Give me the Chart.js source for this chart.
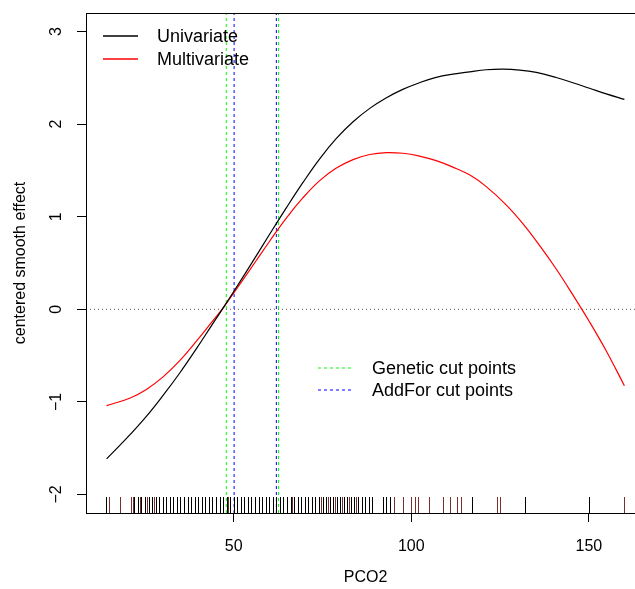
<!DOCTYPE html>
<html>
<head>
<meta charset="utf-8">
<title>PCO2 smooth effect</title>
<script src="https://cdn.jsdelivr.net/npm/chart.js@4.4.1/dist/chart.umd.min.js"></script>
<style>
  html, body { margin: 0; padding: 0; overflow: hidden; background: #fff; }
  #wrap { width: 660px; height: 589px; }
</style>
</head>
<body>
<div id="wrap"><canvas id="smoothChart" width="660" height="589"></canvas></div>
<script>
// smooth effect curves for PCO2
const uniX = [14.2, 19.8, 25.4, 30.1, 34.8, 39.5, 44.2, 47.0, 53.6, 60.1, 64.8, 69.5, 74.2, 78.9, 83.6, 88.3, 93.0, 97.6, 102.3, 107.0, 111.7, 116.4, 121.1, 125.8, 130.5, 135.2, 140.8, 145.5, 150.2, 154.9, 160.0];
const uniY = [-1.616, -1.395, -1.156, -0.93, -0.688, -0.425, -0.149, 0.013, 0.41, 0.81, 1.095, 1.37, 1.625, 1.845, 2.025, 2.17, 2.285, 2.375, 2.447, 2.505, 2.54, 2.565, 2.587, 2.594, 2.584, 2.558, 2.503, 2.447, 2.387, 2.327, 2.267];
const multiX = [14.2, 20.7, 25.4, 30.1, 34.8, 39.5, 44.2, 47.0, 50.8, 56.4, 60.1, 64.8, 69.5, 74.2, 78.9, 83.6, 88.3, 93.0, 97.6, 102.3, 107.0, 111.7, 116.4, 121.1, 126.7, 131.4, 136.1, 140.8, 145.5, 150.2, 154.9, 160.0];
const multiY = [-1.04, -0.96, -0.865, -0.73, -0.555, -0.345, -0.12, 0.015, 0.22, 0.53, 0.735, 0.985, 1.205, 1.39, 1.525, 1.617, 1.672, 1.692, 1.685, 1.655, 1.605, 1.536, 1.452, 1.325, 1.128, 0.925, 0.69, 0.435, 0.155, -0.137, -0.45, -0.825];

// cut points
const geneticCuts = [47.9, 62.6];
const addForCuts = [50.1, 62.0];

// observed PCO2 values (rug)
const rugBlack = [14, 22, 23, 24, 25, 26, 27, 28, 29, 30, 31, 32, 33, 34, 35, 36, 37, 38, 39, 40, 41, 42, 43, 44, 45, 46, 47, 48, 49, 50, 51, 52, 53, 54, 55, 56, 57, 58, 59, 60, 61, 62, 63, 64, 65, 66, 67, 68, 69, 70, 71, 72, 73, 74, 75, 76, 77, 78, 79, 80, 81, 82, 83, 84, 85, 86, 87, 88, 89, 92, 93, 94, 117, 132, 150];
const rugRed = [15, 18, 21, 21.5, 23.5, 25.5, 27.5, 48.5, 66.5, 74.5, 76.5, 78.5, 80.5, 82.5, 84.5, 95, 97.7, 100, 101, 102, 105, 109, 111, 113, 114, 124, 125, 160];

const xTicks = [50, 100, 150];
const yTicks = [-2, -1, 0, 1, 2, 3];
const xRange = [8.4, 165.8];
const yRange = [-2.2, 3.2];

const fontFamily = '"Liberation Sans", Arial, Helvetica, sans-serif';

function toPoints(xs, ys) {
    return xs.map((x, i) => ({ x: x, y: ys[i] }));
}

function cutLine(x, color, label) {
    return {
        label: label,
        data: [{ x: x, y: yRange[0] }, { x: x, y: yRange[1] }],
        borderColor: color,
        borderWidth: 1,
        borderDash: [3, 3],
        showLine: true,
        pointRadius: 0
    };
}

// box, rug, rotated y labels and the two keys
const decorations = {
    id: 'decorations',
    afterDatasetsDraw(chart) {
        const ctx = chart.ctx;
        const area = chart.chartArea;
        const xs = chart.scales.x;
        const ys = chart.scales.y;

        ctx.save();
        ctx.lineWidth = 1;
        const rugTop = area.bottom - 16;
        [[rugBlack, '#000'], [rugRed, '#7a2e2e']].forEach(([vals, col]) => {
            ctx.strokeStyle = col;
            vals.forEach(v => {
                const px = Math.round(xs.getPixelForValue(v)) + 0.5;
                ctx.beginPath();
                ctx.moveTo(px, area.bottom);
                ctx.lineTo(px, rugTop);
                ctx.stroke();
            });
        });

        ctx.strokeStyle = '#000';
        ctx.strokeRect(area.left + 0.5, area.top + 0.5, area.right - area.left, area.bottom - area.top);

        // y tick labels, read bottom to top
        ctx.fillStyle = '#000';
        ctx.font = '16px ' + fontFamily;
        ctx.textAlign = 'center';
        ctx.textBaseline = 'alphabetic';
        yTicks.forEach(v => {
            const py = ys.getPixelForValue(v);
            ctx.save();
            ctx.translate(area.left - 25, py);
            ctx.rotate(-Math.PI / 2);
            ctx.fillText(v < 0 ? '\u2212' + Math.abs(v) : String(v), 0, 0);
            ctx.restore();
        });

        // keys
        ctx.font = '18px ' + fontFamily;
        ctx.textAlign = 'left';
        ctx.textBaseline = 'middle';
        const drawKey = (x0, y, color, dash, text) => {
            ctx.strokeStyle = color;
            ctx.lineWidth = dash.length ? 1 : 1.5;
            ctx.setLineDash(dash);
            ctx.beginPath();
            ctx.moveTo(x0, y);
            ctx.lineTo(x0 + 35, y);
            ctx.stroke();
            ctx.setLineDash([]);
            ctx.fillStyle = '#000';
            ctx.fillText(text, x0 + 54, y + 1);
        };
        const ds = chart.data.datasets;
        drawKey(area.left + 17, area.top + 23, ds[0].borderColor, [], ds[0].label);
        drawKey(area.left + 17, area.top + 46, ds[1].borderColor, [], ds[1].label);
        drawKey(area.left + 232, area.top + 355, '#00ff00', [3, 3], 'Genetic cut points');
        drawKey(area.left + 232, area.top + 377, '#0000ff', [3, 3], 'AddFor cut points');
        ctx.restore();
    }
};

const datasets = [
    {
        label: 'Univariate',
        data: toPoints(uniX, uniY),
        borderColor: '#000000',
        borderWidth: 1.2,
        showLine: true,
        pointRadius: 0,
        tension: 0.4
    },
    {
        label: 'Multivariate',
        data: toPoints(multiX, multiY),
        borderColor: '#ff0000',
        borderWidth: 1.2,
        showLine: true,
        pointRadius: 0,
        tension: 0.4
    },
    {
        label: 'zero',
        data: [{ x: xRange[0], y: 0 }, { x: xRange[1], y: 0 }],
        borderColor: '#555',
        borderWidth: 1,
        borderDash: [1, 3],
        showLine: true,
        pointRadius: 0
    }
];
geneticCuts.forEach(x => datasets.push(cutLine(x, '#00ff00', 'Genetic cut points')));
addForCuts.forEach(x => datasets.push(cutLine(x, '#0000ff', 'AddFor cut points')));

new Chart(document.getElementById('smoothChart'), {
    type: 'scatter',
    data: { datasets: datasets },
    options: {
        responsive: false,
        animation: false,
        devicePixelRatio: 1,
        layout: { padding: { top: 13, right: 15, left: 0, bottom: 0 } },
        plugins: {
            legend: { display: false },
            tooltip: { enabled: false }
        },
        scales: {
            x: {
                type: 'linear',
                min: xRange[0],
                max: xRange[1],
                afterBuildTicks: s => { s.ticks = xTicks.map(v => ({ value: v })); },
                afterFit: s => { s.height = 76; },
                grid: { drawOnChartArea: false, drawTicks: true, tickLength: 9, tickColor: '#000', tickWidth: 1 },
                border: { display: false },
                ticks: { color: '#000', font: { size: 16, family: fontFamily }, padding: 15, maxRotation: 0, autoSkip: false },
                title: { display: true, text: 'PCO2', color: '#000', font: { size: 16, family: fontFamily }, padding: { top: 0, bottom: 2 } }
            },
            y: {
                type: 'linear',
                min: yRange[0],
                max: yRange[1],
                afterBuildTicks: s => { s.ticks = yTicks.map(v => ({ value: v })); },
                afterFit: s => { s.width = 86; },
                grid: { drawOnChartArea: false, drawTicks: true, tickLength: 9, tickColor: '#000', tickWidth: 1 },
                border: { display: false },
                ticks: { display: false },
                title: { display: true, text: 'centered smooth effect', color: '#000', font: { size: 16, family: fontFamily }, padding: { top: 11, bottom: 0 } }
            }
        }
    },
    plugins: [decorations]
});
</script>
</body>
</html>
